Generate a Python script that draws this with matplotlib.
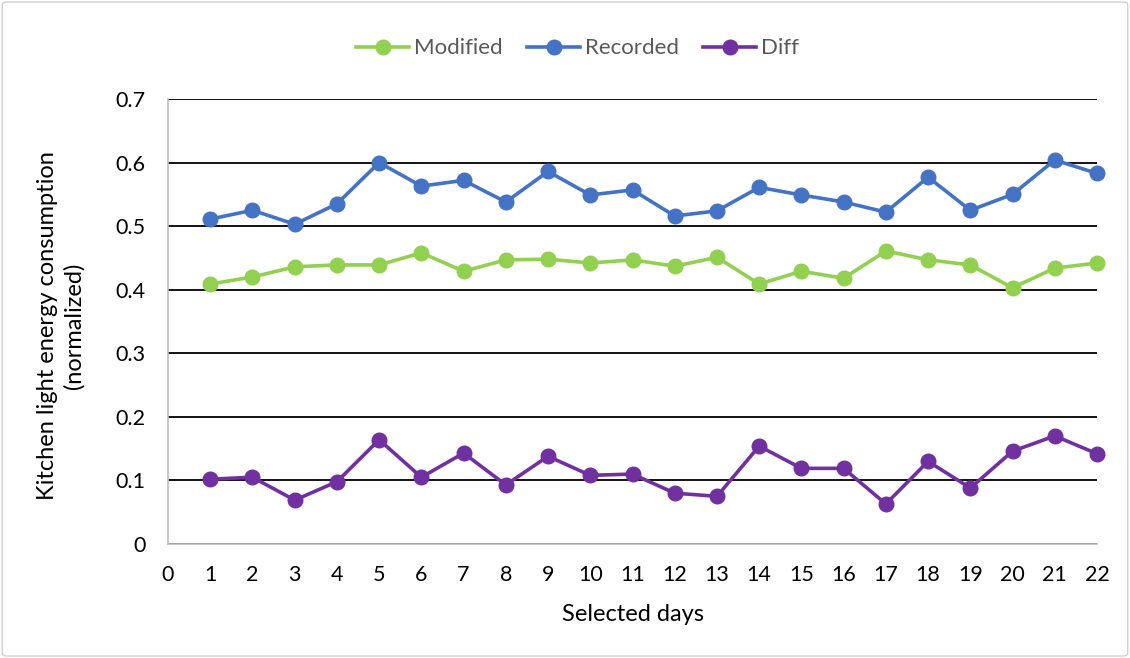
import numpy as np
import matplotlib
matplotlib.use("Agg")
import matplotlib.pyplot as plt
from matplotlib.patches import FancyBboxPatch

# Data
days = list(range(1, 23))
modified = [0.409, 0.420, 0.436, 0.439, 0.439, 0.458, 0.429, 0.447, 0.448, 0.442, 0.447,
            0.437, 0.451, 0.409, 0.429, 0.418, 0.461, 0.447, 0.439, 0.403, 0.434, 0.442]
recorded = [0.511, 0.525, 0.503, 0.535, 0.600, 0.563, 0.572, 0.538, 0.586, 0.549, 0.557,
            0.516, 0.524, 0.561, 0.549, 0.538, 0.522, 0.577, 0.525, 0.550, 0.604, 0.583]
diff = [0.102, 0.105, 0.069, 0.098, 0.164, 0.105, 0.143, 0.093, 0.138, 0.108, 0.110,
        0.080, 0.075, 0.154, 0.119, 0.119, 0.063, 0.130, 0.088, 0.146, 0.170, 0.142]
yticks = [0, 0.1, 0.2, 0.3, 0.4, 0.5, 0.6, 0.7]
ytick_labels = ["0", "0.1", "0.2", "0.3", "0.4", "0.5", "0.6", "0.7"]

plt.rcParams['font.family'] = ['Lato', 'DejaVu Sans']

fig = plt.figure(figsize=(11.3, 6.58), dpi=100)
ax = fig.add_axes([168/1130, 114/658, (1097-168)/1130, (544-99)/658])

# light border round the whole chart
fig.patches.append(FancyBboxPatch((0.002, 0.003), 0.996, 0.994, boxstyle="round,pad=0,rounding_size=0.004",
                                  transform=fig.transFigure, fill=False, edgecolor="#d0d0d0", linewidth=1))

series = [("Modified", modified, "#92D050"),
          ("Recorded", recorded, "#4472C4"),
          ("Diff", diff, "#7030A0")]
for name, vals, col in series:
    ax.plot(days, vals, color=col, linewidth=2.6, marker="o", markersize=10.5,
            label=name, clip_on=False, zorder=3)

ax.set_xlim(0, 22)
ax.set_ylim(0, 0.7)
ax.set_xticks(range(0, 23))
ax.set_yticks(yticks)
ax.set_yticklabels(ytick_labels)
ax.grid(axis="y", color="black", linewidth=1.3)
ax.set_axisbelow(True)
for s in ["top", "right"]:
    ax.spines[s].set_visible(False)
ax.spines["left"].set_color("#bfbfbf")
ax.spines["bottom"].set_color("#bfbfbf")
ax.spines["left"].set_linewidth(1.2)
ax.spines["bottom"].set_linewidth(1.2)
ax.tick_params(axis="both", length=0, labelsize=15.5, colors="black")
ax.tick_params(axis="y", pad=16)
ax.tick_params(axis="x", pad=15)

ax.set_xlabel("Selected days", fontsize=17, labelpad=14)
ax.set_ylabel("Kitchen light energy consumption\n(normalized)", fontsize=17, linespacing=1.25)
ax.yaxis.set_label_coords(-0.09, 0.49)

leg = fig.legend(loc="upper center", bbox_to_anchor=(0.511, 0.972), ncol=3, frameon=False,
                 fontsize=16, handlelength=2.4, columnspacing=1.1, handletextpad=0.2)
for t in leg.get_texts():
    t.set_color("#595959")

fig.savefig("out.png", dpi=100)
